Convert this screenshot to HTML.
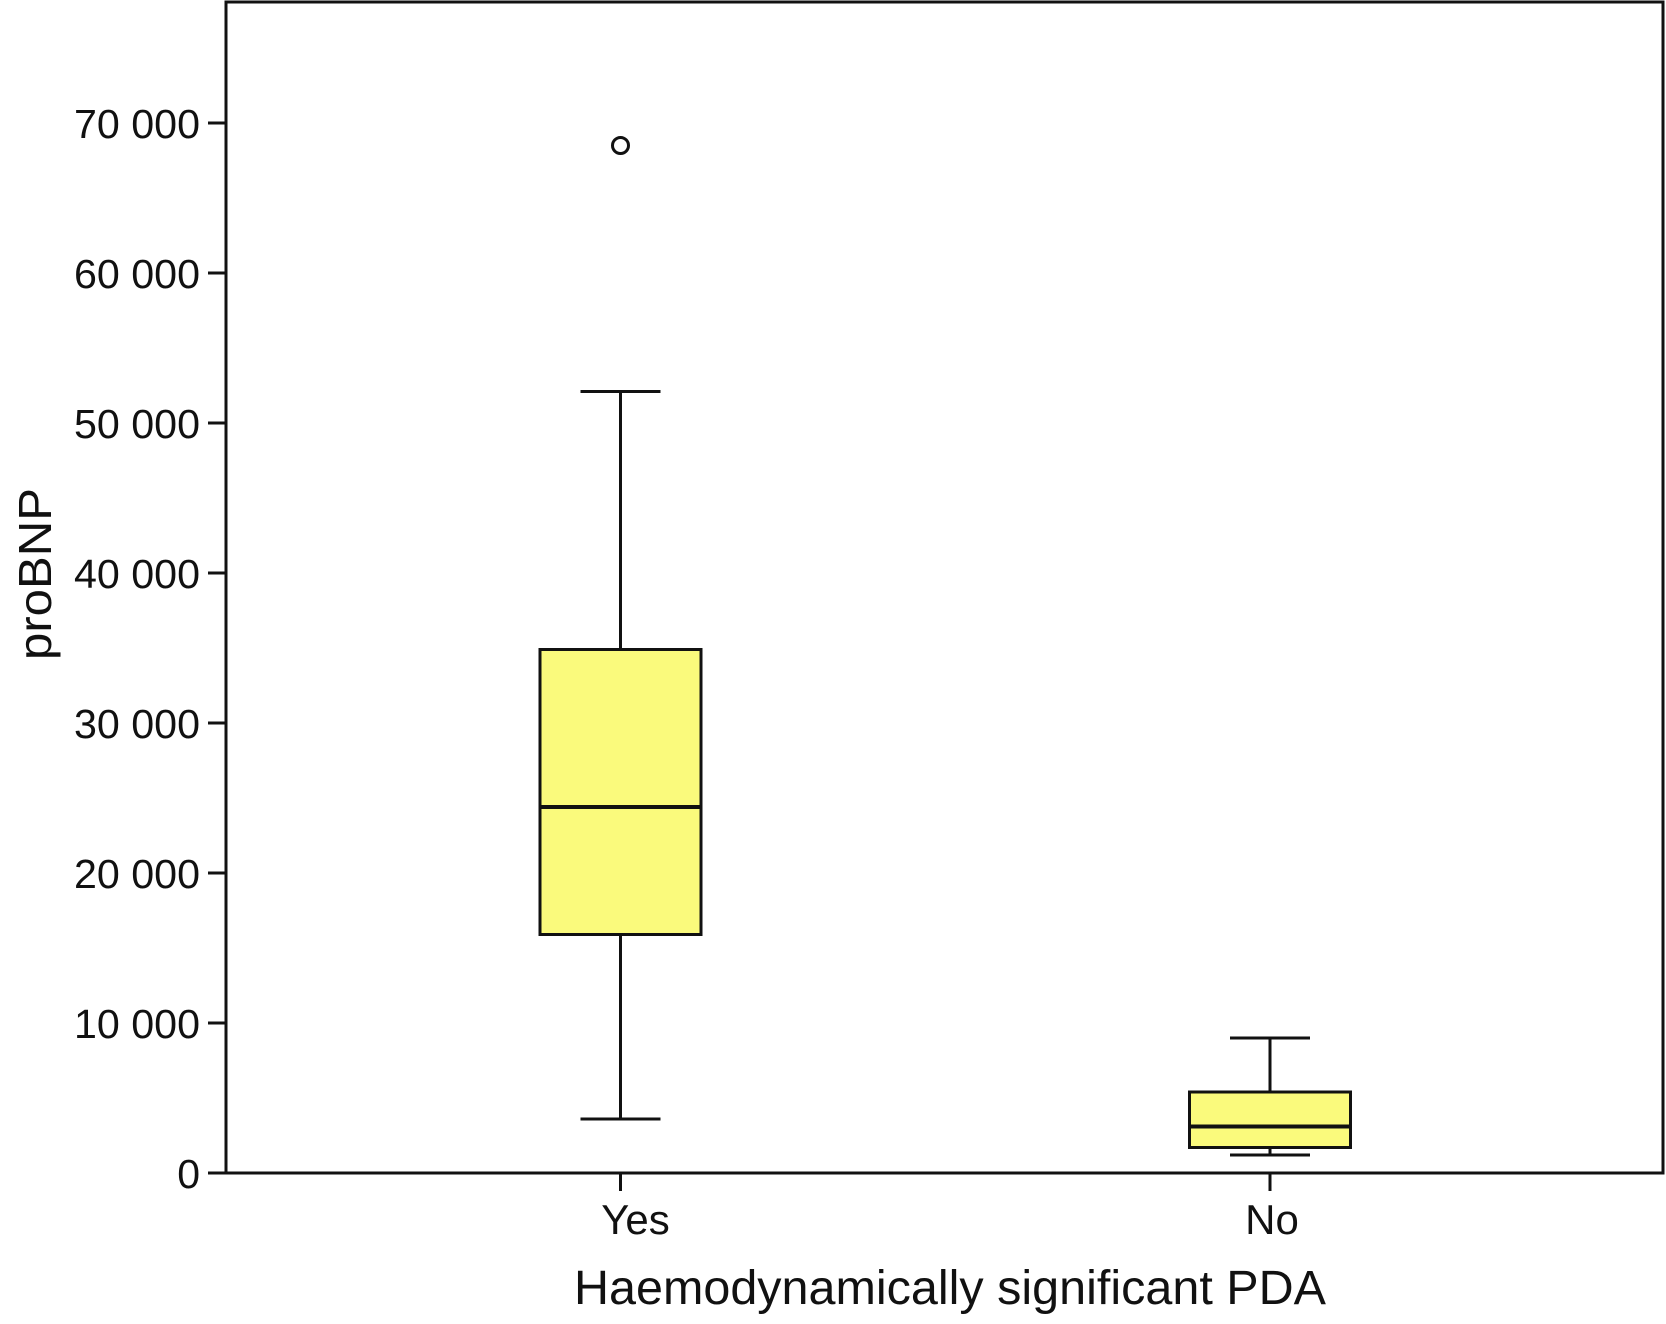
<!DOCTYPE html>
<html><head><meta charset="utf-8"><style>
html,body{margin:0;padding:0;background:#fff;}
svg{display:block;font-family:"Liberation Sans",Arial,sans-serif;}
</style></head><body>
<svg id="chart" width="1666" height="1324" viewBox="0 0 1666 1324">
<rect x="226" y="2" width="1437" height="1171" fill="none" stroke="#111" stroke-width="3"/>
<g id="yaxis"></g>
<g id="xaxis"></g>
<g id="boxes"></g>
<text x="51" y="574" font-size="46" text-anchor="middle" textLength="172" lengthAdjust="spacingAndGlyphs" transform="rotate(-90 51 574)" fill="#111">proBNP</text>
<text x="950" y="1304" font-size="48" text-anchor="middle" textLength="752" lengthAdjust="spacingAndGlyphs" fill="#111">Haemodynamically significant PDA</text>
</svg>
<script>
const categories = ["Yes", "No"];
const whiskerLow = [3600, 1200];
const q1 = [15900, 1700];
const median = [24400, 3100];
const q3 = [34900, 5400];
const whiskerHigh = [52100, 9000];
const outliers = [[68500], []];
const yTicks = [0, 10000, 20000, 30000, 40000, 50000, 60000, 70000];
const yTickLabels = ["0", "10 000", "20 000", "30 000", "40 000", "50 000", "60 000", "70 000"];

const NS = "http://www.w3.org/2000/svg";
const y = v => 1173 - v * 0.0150;
const xc = i => 620.5 + i * 649.5;
const labelShift = [15, 2];
const boxW = 161, capW = 80;
function mk(tag, attrs, parent) {
  const e = document.createElementNS(NS, tag);
  for (const k in attrs) e.setAttribute(k, attrs[k]);
  parent.appendChild(e);
  return e;
}
const ya = document.getElementById('yaxis');
yTicks.forEach((t, i) => {
  const l = mk('line', {x1: 208, x2: 226, y1: y(t), y2: y(t), stroke: '#111', 'stroke-width': 3}, ya);
  
  
  const tx = mk('text', {x: 200, y: y(t) + 15, 'font-size': 41, 'text-anchor': 'end', fill: '#111'}, ya);
  if (yTickLabels[i].length > 1) { tx.setAttribute('textLength', 126); tx.setAttribute('lengthAdjust', 'spacingAndGlyphs'); }
  tx.textContent = yTickLabels[i];
  
  
});
const xa = document.getElementById('xaxis');
const bx = document.getElementById('boxes');
categories.forEach((c, i) => {
  const cx = xc(i);
  const t = mk('line', {x1: cx, x2: cx, y1: 1173, y2: 1191, stroke: '#111', 'stroke-width': 3}, xa);
  
  
  const lb = mk('text', {x: cx + labelShift[i], y: 1234, 'font-size': 42, 'text-anchor': 'middle', fill: '#111'}, xa);
  lb.textContent = c;
  
  
  const g = mk('g', {}, bx);
  
  
  const st = {stroke: '#111', 'stroke-width': 3};
  mk('line', Object.assign({x1: cx, x2: cx, y1: y(whiskerHigh[i]), y2: y(q3[i])}, st), g);
  mk('line', Object.assign({x1: cx, x2: cx, y1: y(q1[i]), y2: y(whiskerLow[i])}, st), g);
  mk('line', Object.assign({x1: cx - capW / 2, x2: cx + capW / 2, y1: y(whiskerHigh[i]), y2: y(whiskerHigh[i])}, st), g);
  mk('line', Object.assign({x1: cx - capW / 2, x2: cx + capW / 2, y1: y(whiskerLow[i]), y2: y(whiskerLow[i])}, st), g);
  mk('rect', {x: cx - boxW / 2, y: y(q3[i]), width: boxW, height: y(q1[i]) - y(q3[i]), fill: '#fafa7c', stroke: '#111', 'stroke-width': 3}, g);
  mk('line', {x1: cx - boxW / 2, x2: cx + boxW / 2, y1: y(median[i]), y2: y(median[i]), stroke: '#111', 'stroke-width': 4}, g);
  outliers[i].forEach(o => {
    const p = mk('circle', {cx: cx, cy: y(o), r: 8, fill: '#fff', stroke: '#111', 'stroke-width': 3}, g);
    
    
  });
});
</script>
</body></html>
